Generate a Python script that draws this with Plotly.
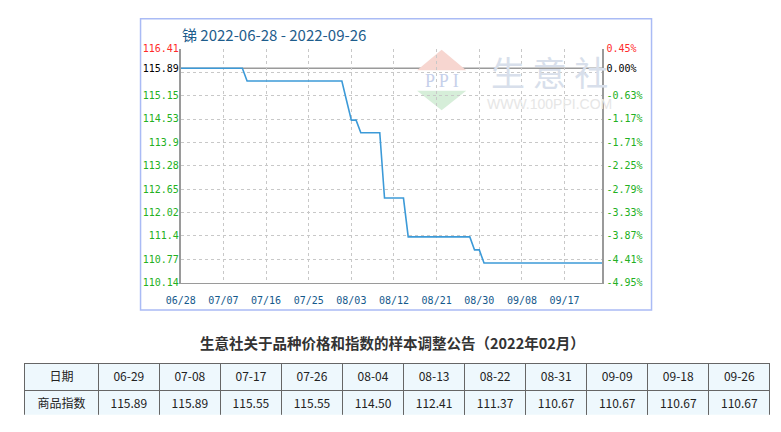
import pandas as pd
import plotly.graph_objects as go

# ---------------- data ----------------
start_date = "2022-06-28"
end_date = "2022-09-26"
base_value = 115.89

# daily index values 06-28 .. 09-26
daily_values = [
    115.89, 115.89, 115.89, 115.89, 115.89, 115.89, 115.89,
    115.89, 115.89, 115.89, 115.89, 115.89, 115.89, 115.89,
    115.55, 115.55, 115.55, 115.55, 115.55, 115.55, 115.55,
    115.55, 115.55, 115.55, 115.55, 115.55, 115.55, 115.55,
    115.55, 115.55, 115.55, 115.55, 115.55, 115.55, 115.55,
    115.02, 114.50, 114.50,
    114.16, 114.16, 114.16, 114.16, 114.16,
    112.41, 112.41, 112.41, 112.41, 112.41,
    111.37, 111.37, 111.37, 111.37, 111.37, 111.37, 111.37,
    111.37, 111.37, 111.37, 111.37, 111.37, 111.37, 111.37,
    111.02, 111.02,
    110.67, 110.67, 110.67, 110.67, 110.67, 110.67, 110.67,
    110.67, 110.67, 110.67, 110.67, 110.67, 110.67, 110.67,
    110.67, 110.67, 110.67, 110.67, 110.67, 110.67, 110.67,
    110.67, 110.67, 110.67, 110.67, 110.67, 110.67,
]
daily_dates = pd.date_range(start_date, end_date, freq="D")

x_tick_dates = ["2022-06-28", "2022-07-07", "2022-07-16", "2022-07-25", "2022-08-03",
                "2022-08-12", "2022-08-21", "2022-08-30", "2022-09-08", "2022-09-17"]
x_tick_labels = ["06/28", "07/07", "07/16", "07/25", "08/03",
                 "08/12", "08/21", "08/30", "09/08", "09/17"]

left_tick_vals = [116.41, 115.89, 115.15, 114.53, 113.9, 113.28, 112.65, 112.02, 111.4, 110.77, 110.14]
left_tick_labels = ["116.41", "115.89", "115.15", "114.53", "113.9", "113.28", "112.65",
                    "112.02", "111.4", "110.77", "110.14"]
right_tick_labels = ["0.45%", "0.00%", "-0.63%", "-1.17%", "-1.71%", "-2.25%", "-2.79%",
                     "-3.33%", "-3.87%", "-4.41%", "-4.95%"]
y_min, y_max, y_step = 110.14, 116.41, 0.627

table_dates = ["06-29", "07-08", "07-17", "07-26", "08-04", "08-13",
               "08-22", "08-31", "09-09", "09-18", "09-26"]
table_values = [115.89, 115.89, 115.55, 115.55, 114.50, 112.41,
                111.37, 110.67, 110.67, 110.67, 110.67]

title_text = "锑 2022-06-28 - 2022-09-26"
notice_text = "生意社关于品种价格和指数的样本调整公告（2022年02月）"

# ---------------- style ----------------
W, H = 781, 432
RED, BLACK, GREEN = "#ff2a2a", "#000000", "#22b022"
MONO = "DejaVu Sans Mono, Liberation Mono, monospace"
CJK = "Noto Sans CJK SC, Noto Sans, sans-serif"


def px(x):
    return x / W


def py(y):
    return 1 - y / H


def colored(labels):
    out = []
    for i, t in enumerate(labels):
        c = RED if i == 0 else (BLACK if i == 1 else GREEN)
        out.append('<span style="color:%s">%s</span>' % (c, t))
    return out


fig = go.Figure()

fig.add_trace(go.Scatter(
    x=daily_dates, y=daily_values, mode="lines",
    line=dict(color="#3c9ad8", width=1.6),
    hoverinfo="skip", showlegend=False, xaxis="x", yaxis="y",
))
# empty traces so the two label axes are drawn
for ax in ("y2", "y3"):
    fig.add_trace(go.Scatter(x=[], y=[], mode="lines", xaxis="x", yaxis=ax,
                             showlegend=False, hoverinfo="skip"))

fig.add_trace(go.Table(
    domain=dict(x=[px(10), px(770)], y=[py(421), py(368)]),
    columnwidth=[75] + [62.3] * len(table_dates),
    header=dict(
        values=["日期"] + table_dates,
        fill_color="#eef8fd", line=dict(color="#666666", width=1),
        align="center", height=27,
        font=dict(family=CJK, size=12, color="#222222"),
    ),
    cells=dict(
        values=[["商品指数"]] + [["%.2f" % v] for v in table_values],
        fill_color="#eef8fd", line=dict(color="#666666", width=1),
        align="center", height=26,
        font=dict(family=CJK, size=12, color="#222222"),
    ),
))

x_dom = [px(169), px(599)]
y_dom = [py(285), py(45)]
y_range = [y_min, y_max + 0.0005]

grid = dict(showgrid=True, gridcolor="#c8c8c8", griddash="3px,3px", gridwidth=1)

fig.update_layout(
    width=W, height=H,
    margin=dict(l=0, r=0, t=0, b=0),
    paper_bgcolor="white", plot_bgcolor="white",
    font=dict(family=CJK),
    showlegend=False,
    xaxis=dict(
        domain=x_dom, anchor="y", type="date",
        range=[start_date, "2022-09-25"],
        tickmode="array", tickvals=x_tick_dates, ticktext=x_tick_labels,
        tickfont=dict(family=MONO, size=10, color="#15598c"),
        ticks="", ticklabelstandoff=8,
        showline=True, linecolor="#9a9a9a", linewidth=1.5, mirror=False,
        zeroline=False, **grid,
    ),
    yaxis=dict(
        domain=y_dom, anchor="x", range=y_range,
        tickmode="linear", tick0=y_min, dtick=y_step,
        showticklabels=False, ticks="",
        showline=True, linecolor="#9a9a9a", linewidth=1.5, mirror=True,
        zeroline=False, **grid,
    ),
    yaxis2=dict(
        overlaying="y", side="left", anchor="x", range=y_range,
        tickmode="array", tickvals=left_tick_vals, ticktext=colored(left_tick_labels),
        tickfont=dict(family=MONO, size=10, color=GREEN),
        ticks="", showgrid=False, showline=False, zeroline=False,
        ticklabelstandoff=1,
    ),
    yaxis3=dict(
        overlaying="y", side="right", anchor="x", range=y_range,
        tickmode="array", tickvals=left_tick_vals, ticktext=colored(right_tick_labels),
        tickfont=dict(family=MONO, size=10, color=GREEN),
        ticks="", showgrid=False, showline=False, zeroline=False,
        ticklabelstandoff=3,
    ),
)

# base value reference line
fig.add_hline(y=base_value, line=dict(color="#9a9a9a", width=1.5), layer="below")

# outer chart box
fig.add_shape(type="rect", xref="paper", yref="paper",
              x0=px(128), x1=px(649), y0=py(313), y1=py(14),
              line=dict(color="#aabbf5", width=1.5), layer="below")

# watermark logo
fig.add_shape(type="path", xref="paper", yref="paper", layer="below",
              path="M %f,%f L %f,%f L %f,%f Z" % (px(410), py(67), px(460), py(67), px(435), py(46)),
              fillcolor="#f7d6d0", line=dict(width=0))
fig.add_shape(type="path", xref="paper", yref="paper", layer="below",
              path="M %f,%f L %f,%f L %f,%f Z" % (px(410), py(88), px(460), py(88), px(435), py(108)),
              fillcolor="#d6eed9", line=dict(width=0))

annotations = [
    dict(text="P P I", x=px(435), y=py(78), xref="paper", yref="paper",
         xanchor="center", yanchor="middle", showarrow=False,
         font=dict(family="Liberation Serif", size=18, color="#c6d0ea")),
    dict(text="生 意 社", x=px(545), y=py(68), xref="paper", yref="paper",
         xanchor="center", yanchor="middle", showarrow=False,
         font=dict(family=CJK, size=34, color="#d8dfeb")),
    dict(text="WWW.100PPI.COM", x=px(545), y=py(102), xref="paper", yref="paper",
         xanchor="center", yanchor="middle", showarrow=False,
         font=dict(family="Liberation Sans", size=14, color="#e6e6e6")),
    dict(text=title_text, x=px(168), y=py(30), xref="paper", yref="paper",
         xanchor="left", yanchor="middle", showarrow=False,
         font=dict(family=CJK, size=15, color="#1e5d8c")),
    dict(text="<b>%s</b>" % notice_text, x=px(385), y=py(346), xref="paper", yref="paper",
         xanchor="center", yanchor="middle", showarrow=False,
         font=dict(family=CJK, size=14.5, color="#333333")),
]
fig.update_layout(annotations=annotations)

fig.write_html("out.html",
               config={"displayModeBar": False, "staticPlot": True},
               post_script="document.body.style.margin='0';document.body.style.padding='0';")
